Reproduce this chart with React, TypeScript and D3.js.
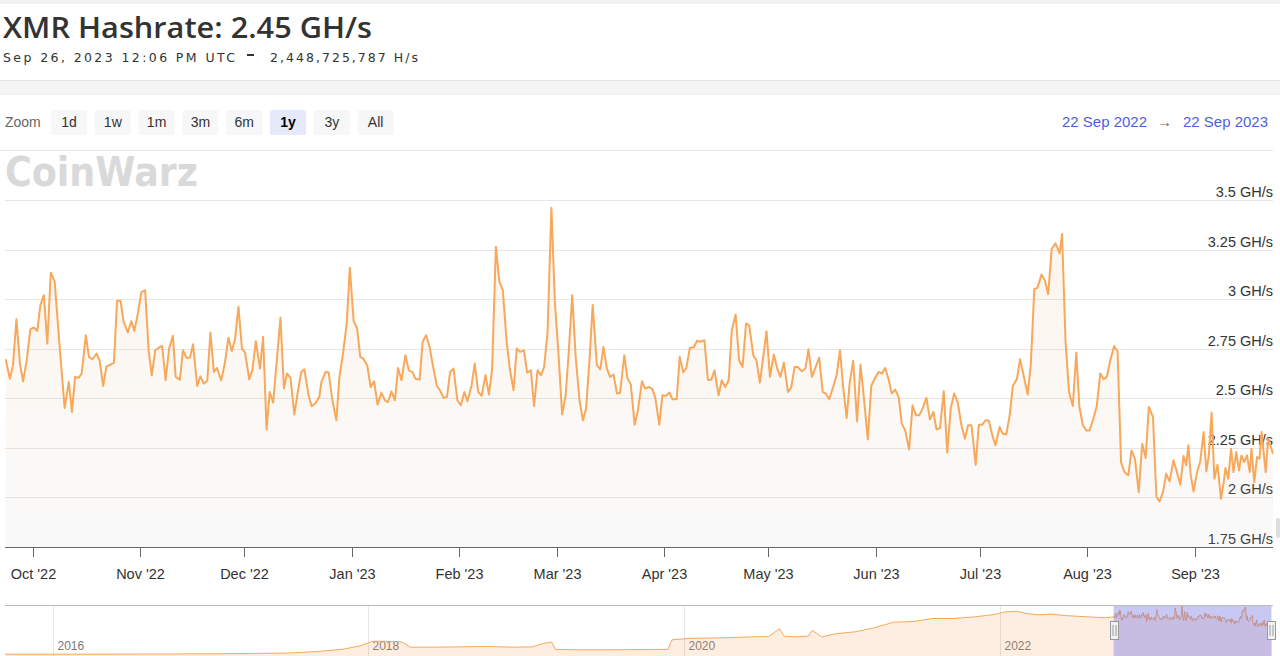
import React from "react";
import * as d3 from "d3";

// ---------- DATA ----------
const START_DATE = Date.UTC(2022, 8, 22); // 22 Sep 2022

// days after START_DATE, and hashrate in GH/s
const dayOffsets = [
  1.2, 2.4, 3.3, 4.3, 5.3, 6.2, 7.2, 8.3, 9.3, 10.3, 11.2, 12.2, 13.2, 14.2, 15.3, 16.8, 18.2, 19.4, 20.3, 21.2,
  22.2, 23.1, 24.3, 25.2, 26.2, 27.4, 28.3, 29.3, 30.2, 31.4, 32.4, 33.3, 34.3, 35.2, 36.4, 37.4, 38.3, 39.3, 40.3, 41.4,
  42.4, 43.3, 44.3, 45.2, 46.3, 47.3, 48.3, 49.4, 50.2, 51.4, 52.3, 53.3, 54.3, 55.2, 56.4, 57.3, 58.3, 59.3, 60.2, 61.2,
  62.1, 63.3, 64.3, 65.4, 66.4, 67.3, 68.3, 69.3, 70.2, 71.4, 72.3, 73.3, 74.5, 75.4, 76.4, 77.3, 78.3, 80.4, 81.4, 82.3,
  83.3, 84.4, 85.4, 86.4, 87.3, 88.5, 89.4, 90.4, 91.6,
  92.2, 93.4, 94.3, 95.3, 96.5, 97.4, 98.4, 99.5, 100.4, 101.5, 102.5, 103.4, 104.3, 105.4, 106.4, 107.4, 108.4, 109.5,
  110.5, 111.4, 112.4, 113.4, 114.3, 115.3, 116.4, 117.4, 118.4, 119.3, 120.5, 121.4, 122.4, 123.4, 124.3, 125.5, 126.4,
  127.4, 128.4, 129.3, 130.3, 131.4, 132.4, 133.4, 134.3, 135.5, 136.4, 137.4, 138.4, 139.5, 140.5, 141.4, 142.5, 143.5,
  144.5, 145.6, 146.5, 147.6, 148.5, 149.5, 150.6, 151.5, 152.6, 153.5, 154.5, 155.5, 156.4, 157.4, 158.5, 159.5, 160.5,
  161.6, 162.6, 163.5, 164.5, 165.5, 166.6, 167.6, 168.5, 169.5, 170.4, 171.6, 172.6, 173.5, 174.5, 175.4, 176.4, 177.4,
  178.3, 179.5, 180.4, 181.4,
  182.5, 183.4, 184.6, 185.5, 186.5, 187.5, 188.4, 189.6, 190.5, 191.5, 192.5, 193.4, 194.6, 195.5, 196.5, 197.4, 198.4,
  199.6, 200.5, 201.5, 202.6, 203.6, 204.6, 205.5, 206.7, 207.6, 208.6, 209.6, 210.5, 211.6, 212.6, 213.6, 214.6, 215.5,
  216.7, 217.6, 218.6, 219.5, 220.5, 221.5, 222.6, 223.6, 224.5, 225.5, 226.7, 227.6, 228.6, 229.5, 230.7, 231.7, 232.6,
  233.6, 234.5, 235.7, 236.7, 237.6, 238.6, 239.7, 240.7, 241.7, 242.6, 243.6, 244.5, 245.5, 246.6, 247.6, 248.6, 249.7,
  250.7, 251.6, 252.8, 253.8, 254.7, 255.7, 256.6, 257.6, 258.6, 259.5, 260.5, 261.6, 262.6, 263.6, 264.5, 265.5, 266.6,
  267.6, 268.6, 269.5, 270.5, 271.6, 272.6,
  273.6, 274.6, 275.6, 276.7, 277.7, 278.6, 279.6, 280.8, 281.7, 282.7, 283.6, 284.6, 285.6, 286.5, 287.7, 288.6, 289.6,
  290.6, 291.5, 292.7, 293.6, 294.6, 295.8, 296.7, 297.7, 298.6, 299.8, 300.7, 301.7, 302.7, 303.8, 305.0, 305.7, 306.7,
  307.7, 308.8, 309.8, 310.7, 311.7, 312.7, 313.6, 314.6, 315.7, 316.7, 317.7, 318.6, 319.6, 320.7, 321.7, 322.7, 323.6,
  324.8, 325.7, 326.7, 327.8, 328.8, 329.8, 330.7, 331.9, 332.9, 333.8, 334.8, 335.7, 336.7, 337.8, 338.8, 339.8, 340.7,
  341.5, 342.1, 342.8, 343.6, 344.6, 345.5, 346.5, 347.3, 348.0, 348.8, 349.6, 350.5, 351.5, 352.3, 352.8, 353.6, 354.4,
  355.1, 355.9, 356.7, 357.4, 358.2, 359.0, 359.8, 360.3, 361.1, 361.9, 362.6, 363.2, 364.4, 365.1, 366.5,
];

const hashrate = [
  2.697, 2.599, 2.667, 2.899, 2.675, 2.586, 2.684, 2.848, 2.857, 2.84, 2.97, 3.02, 2.776, 3.133, 3.091, 2.751, 2.451, 2.583, 2.431, 2.608,
  2.603, 2.625, 2.818, 2.709, 2.697, 2.726, 2.687, 2.562, 2.658, 2.67, 2.68, 2.992, 2.992, 2.886, 2.832, 2.889, 2.84, 2.928, 3.034, 3.045,
  2.742, 2.616, 2.742, 2.754, 2.764, 2.591, 2.751, 2.815, 2.608, 2.594, 2.742, 2.705, 2.705, 2.773, 2.562, 2.611, 2.574, 2.588, 2.832, 2.633,
  2.653, 2.591, 2.67, 2.805, 2.739, 2.798, 2.961, 2.751, 2.731, 2.596, 2.641, 2.788, 2.65, 2.81, 2.343, 2.532, 2.478, 2.906, 2.549, 2.625,
  2.603, 2.418, 2.532, 2.633, 2.646, 2.515, 2.46, 2.473, 2.507,
  2.583, 2.633, 2.63, 2.498, 2.389, 2.608, 2.721, 2.877, 3.158, 2.889, 2.852, 2.709, 2.7, 2.667, 2.557, 2.586, 2.468, 2.529,
  2.49, 2.481, 2.535, 2.49, 2.653, 2.591, 2.717, 2.641, 2.633, 2.599, 2.594, 2.785, 2.818, 2.759, 2.67, 2.562, 2.54,
  2.502, 2.507, 2.633, 2.65, 2.49, 2.465, 2.532, 2.485, 2.566, 2.675, 2.532, 2.512, 2.616, 2.519, 2.646, 3.264, 3.088,
  3.045, 2.785, 2.65, 2.54, 2.751, 2.734, 2.742, 2.63, 2.641, 2.461, 2.641, 2.616, 2.658, 2.835, 3.461, 2.987, 2.734,
  2.418, 2.515, 2.734, 3.02, 2.709, 2.49, 2.389, 2.448, 2.7, 2.97, 2.667, 2.646, 2.759, 2.65, 2.608, 2.62, 2.524,
  2.527, 2.717, 2.603, 2.569,
  2.367, 2.434, 2.586, 2.549, 2.557, 2.549, 2.507, 2.367, 2.515, 2.512, 2.529, 2.495, 2.495, 2.709, 2.63, 2.653, 2.754,
  2.759, 2.79, 2.785, 2.793, 2.594, 2.594, 2.641, 2.515, 2.591, 2.557, 2.591, 2.843, 2.922, 2.692, 2.658, 2.877, 2.869,
  2.717, 2.692, 2.579, 2.7, 2.838, 2.608, 2.721, 2.65, 2.608, 2.68, 2.532, 2.552, 2.658, 2.658, 2.636, 2.65, 2.747,
  2.608, 2.65, 2.705, 2.532, 2.524, 2.495, 2.557, 2.616, 2.742, 2.557, 2.401, 2.583, 2.689, 2.384, 2.67, 2.498, 2.293,
  2.562, 2.596, 2.633, 2.625, 2.653, 2.596, 2.524, 2.544, 2.507, 2.372, 2.338, 2.242, 2.465, 2.414, 2.414, 2.448, 2.502,
  2.394, 2.431, 2.343, 2.35, 2.535, 2.226,
  2.448, 2.524, 2.481, 2.364, 2.296, 2.364, 2.364, 2.165, 2.367, 2.367, 2.389, 2.387, 2.313, 2.263, 2.355, 2.322, 2.317,
  2.414, 2.562, 2.599, 2.697, 2.616, 2.519, 2.675, 3.051, 3.057, 3.125, 3.096, 3.025, 3.253, 3.281, 3.231, 3.328, 2.785,
  2.532, 2.461, 2.731, 2.456, 2.364, 2.338, 2.338, 2.389, 2.461, 2.625, 2.596, 2.608, 2.692, 2.764, 2.737, 2.178, 2.131,
  2.111, 2.237, 2.195, 2.027, 2.271, 2.199, 2.456, 2.406, 2.002, 1.98, 2.027, 2.12, 2.081, 2.187, 2.128, 2.064, 2.209,
  2.162, 2.263, 2.111, 2.03, 2.128, 2.178, 2.33, 2.131, 2.212, 2.428, 2.094, 2.165, 1.993, 2.077, 2.148, 2.094, 2.246,
  2.128, 2.229, 2.136, 2.212, 2.178, 2.212, 2.128, 2.246, 2.077, 2.204, 2.195, 2.33, 2.128, 2.296, 2.221,
];

// navigator: full history before the selected year (GH/s)
const navDates = [
  "2015-09-13", "2016-01-01", "2016-06-01", "2016-10-01", "2017-01-01", "2017-04-01", "2017-07-01", "2017-09-01",
  "2017-11-01", "2017-12-15", "2018-01-10", "2018-02-15", "2018-03-20", "2018-04-08", "2018-06-01", "2018-08-01",
  "2018-10-01", "2018-12-01", "2019-01-15", "2019-02-10", "2019-03-01", "2019-03-10", "2019-05-01", "2019-07-01",
  "2019-09-01", "2019-11-25", "2019-12-05", "2020-01-15", "2020-03-01", "2020-04-15", "2020-06-01", "2020-07-15",
  "2020-08-10", "2020-08-20", "2020-09-15", "2020-10-15", "2020-10-25", "2020-11-15", "2020-12-15", "2021-02-01",
  "2021-03-15", "2021-05-01", "2021-06-15", "2021-08-01", "2021-09-15", "2021-11-01", "2021-12-15", "2022-01-15",
  "2022-02-10", "2022-03-01", "2022-04-01", "2022-05-01", "2022-06-01", "2022-07-01", "2022-08-01", "2022-09-01",
  "2022-09-22",
];
const navValues = [
  0.12, 0.12, 0.13, 0.14, 0.15, 0.17, 0.2, 0.3,
  0.45, 0.7, 1.0, 1.0, 0.95, 0.6, 0.6, 0.62,
  0.65, 0.6, 0.62, 0.85, 0.95, 0.45, 0.42, 0.42,
  0.43, 0.45, 1.1, 1.2, 1.22, 1.25, 1.3, 1.32,
  1.85, 1.35, 1.3, 1.35, 1.75, 1.3, 1.5, 1.65,
  1.9, 2.3, 2.35, 2.55, 2.55, 2.65, 2.8, 3.0,
  3.05, 2.9, 2.8, 2.85, 2.75, 2.7, 2.65, 2.6,
  2.65,
];
const navYearTicks = ["2016-01-01", "2018-01-01", "2020-01-01", "2022-01-01"];
const navYearLabels = ["2016", "2018", "2020", "2022"];

const yTicks = [1.75, 2, 2.25, 2.5, 2.75, 3, 3.25, 3.5];
const yTickLabels = ["1.75 GH/s", "2 GH/s", "2.25 GH/s", "2.5 GH/s", "2.75 GH/s", "3 GH/s", "3.25 GH/s", "3.5 GH/s"];

const xTickDates = [
  "2022-10-01", "2022-11-01", "2022-12-01", "2023-01-01", "2023-02-01", "2023-03-01",
  "2023-04-01", "2023-05-01", "2023-06-01", "2023-07-01", "2023-08-01", "2023-09-01",
];
const xTickLabels = [
  "Oct '22", "Nov '22", "Dec '22", "Jan '23", "Feb '23", "Mar '23",
  "Apr '23", "May '23", "Jun '23", "Jul '23", "Aug '23", "Sep '23",
];

const zoomButtons = ["1d", "1w", "1m", "3m", "6m", "1y", "3y", "All"];
const selectedButton = "1y";

const FONT = "'Liberation Sans', Arial, Helvetica, sans-serif";
const parse = d3.utcParse("%Y-%m-%d");

export default function App() {
  const W = 1280;
  const H = 656;
  const plotL = 5;
  const plotR = 1273;
  const plotT = 200;
  const plotB = 547;

  const x = d3
    .scaleUtc()
    .domain([new Date(Date.UTC(2022, 8, 23)), new Date(Date.UTC(2023, 8, 23, 12))])
    .range([plotL, plotR]);
  const y = d3.scaleLinear().domain([1.75, 3.5]).range([plotB, plotT]);

  const data = dayOffsets.map((d, i) => ({ date: new Date(START_DATE + d * 864e5), v: hashrate[i] }));

  const line = d3
    .line<{ date: Date; v: number }>()
    .x((d) => x(d.date))
    .y((d) => y(d.v));
  const area = d3
    .area<{ date: Date; v: number }>()
    .x((d) => x(d.date))
    .y0(plotB)
    .y1((d) => y(d.v));

  // navigator
  const navTop = 605;
  const navBottom = 656;
  const navX = d3
    .scaleUtc()
    .domain([new Date(Date.UTC(2015, 8, 13)), new Date(Date.UTC(2023, 8, 26))])
    .range([plotL, plotR]);
  const navY = d3.scaleLinear().domain([0, 3.4]).range([656, 606]);
  const navData = [
    ...navDates.map((s, i) => ({ date: parse(s) as Date, v: navValues[i] })),
    ...data,
  ];
  const navLine = d3
    .line<{ date: Date; v: number }>()
    .x((d) => navX(d.date))
    .y((d) => navY(d.v));
  const navArea = d3
    .area<{ date: Date; v: number }>()
    .x((d) => navX(d.date))
    .y0(navBottom)
    .y1((d) => navY(d.v));
  const selL = navX(new Date(Date.UTC(2022, 8, 22)));
  const selR = navX(new Date(Date.UTC(2023, 8, 22, 12)));

  const btnX0 = 51;
  const btnStep = 43.8;
  const btnW = 36;

  return (
    <svg
      width={W}
      height={H}
      viewBox={`0 0 ${W} ${H}`}
      style={{ position: "fixed", left: 0, top: 0, background: "#fff", display: "block" }}
      fontFamily={FONT}
    >
      <defs>
        <linearGradient id="areaGrad" gradientUnits="userSpaceOnUse" x1="0" y1={plotT} x2="0" y2={plotB}>
          <stop offset="0%" stopColor="rgb(245,168,92)" stopOpacity={0.12} />
          <stop offset="100%" stopColor="rgb(200,200,200)" stopOpacity={0.1} />
        </linearGradient>
        <clipPath id="plotClip">
          <rect x={plotL} y={150} width={plotR - plotL + 2} height={plotB - 150} />
        </clipPath>
        <clipPath id="navClip">
          <rect x={plotL} y={navTop} width={plotR - plotL} height={navBottom - navTop} />
        </clipPath>
      </defs>

      {/* header card */}
      <rect x={0} y={0} width={W} height={4} fill="#f1f1f1" />
      <rect x={0} y={80} width={W} height={15} fill="#f4f4f4" />
      <line x1={0} x2={W} y1={80.5} y2={80.5} stroke="#e2e2e2" />
      <line x1={0} x2={W} y1={94.5} y2={94.5} stroke="#ececec" />
      <text
        x={3}
        y={38}
        fontFamily="'Open Sans', 'Liberation Sans', sans-serif"
        fontWeight={600}
        fontSize={29}
        fill="#333"
        textLength={369}
        lengthAdjust="spacingAndGlyphs"
      >
        XMR Hashrate: 2.45 GH/s
      </text>
      <g fontFamily="'DejaVu Sans', 'Liberation Sans', sans-serif" fontWeight={500} fontSize={12.5} fill="#333">
        <text x={3} y={62} textLength={232} lengthAdjust="spacing">
          Sep 26, 2023 12:06 PM UTC
        </text>
        <rect x={247} y={54} width={7} height={2} fill="#333" />
        <text x={270} y={62} textLength={148} lengthAdjust="spacing">
          2,448,725,787 H/s
        </text>
      </g>

      {/* range selector */}
      <text x={5} y={127} fontSize={14} fill="#666">
        Zoom
      </text>
      {zoomButtons.map((b, i) => {
        const bx = btnX0 + i * btnStep;
        const sel = b === selectedButton;
        return (
          <g key={b}>
            <rect x={bx} y={110} width={btnW} height={25} rx={2} fill={sel ? "#e6e9fa" : "#f7f7f7"} />
            <text
              x={bx + btnW / 2}
              y={127}
              textAnchor="middle"
              fontSize={14}
              fontWeight={sel ? 700 : 400}
              fill={sel ? "#000" : "#333"}
            >
              {b}
            </text>
          </g>
        );
      })}
      <text x={1062} y={127} fontSize={15} fill="#4c5fe0" textLength={85} lengthAdjust="spacingAndGlyphs">
        22 Sep 2022
      </text>
      <text x={1164.5} y={127} fontSize={15} fill="#666" textAnchor="middle">
        →
      </text>
      <text x={1183} y={127} fontSize={15} fill="#4c5fe0" textLength={85} lengthAdjust="spacingAndGlyphs">
        22 Sep 2023
      </text>
      <line x1={0} x2={plotR} y1={150.5} y2={150.5} stroke="#e6e6e6" />

      {/* watermark logo */}
      <text
        x={5}
        y={186}
        fontFamily="'DejaVu Sans', sans-serif"
        fontWeight={900}
        fontSize={40}
        fill="#d9d9d9"
        textLength={193}
        lengthAdjust="spacingAndGlyphs"
      >
        CoinWarz
      </text>

      {/* grid */}
      {yTicks.map((t) =>
        t === 1.75 ? null : (
          <line key={t} x1={plotL} x2={plotR} y1={Math.round(y(t)) + 0.5} y2={Math.round(y(t)) + 0.5} stroke="#e6e6e6" />
        )
      )}
      {yTicks.map((t, i) => (
        <text key={"yl" + t} x={plotR} y={y(t) - 3} textAnchor="end" fontSize={14.5} fill="#333">
          {yTickLabels[i]}
        </text>
      ))}

      {/* series */}
      <g clipPath="url(#plotClip)">
        <path d={area(data) || ""} fill="url(#areaGrad)" />
        <path d={line(data) || ""} fill="none" stroke="#f7a85a" strokeWidth={2} strokeLinejoin="round" />
      </g>

      {/* x axis */}
      <line x1={plotL} x2={plotR} y1={plotB + 0.5} y2={plotB + 0.5} stroke="#666" />
      {xTickDates.map((s, i) => {
        const tx = Math.round(x(parse(s) as Date)) + 0.5;
        return (
          <g key={s}>
            <line x1={tx} x2={tx} y1={plotB} y2={plotB + 10} stroke="#666" />
            <text x={tx} y={579} textAnchor="middle" fontSize={14.5} fill="#333">
              {xTickLabels[i]}
            </text>
          </g>
        );
      })}
      <rect x={1276} y={518} width={4} height={20} rx={2} fill="#dedede" />

      {/* navigator */}
      {navYearTicks.map((s, i) => {
        const gx = Math.round(navX(parse(s) as Date)) + 0.5;
        return (
          <g key={s}>
            <line x1={gx} x2={gx} y1={navTop} y2={navBottom} stroke="#e6e6e6" />
            <text x={gx + 4} y={650} fontSize={12} fill="#777">
              {navYearLabels[i]}
            </text>
          </g>
        );
      })}
      <g clipPath="url(#navClip)">
        <path d={navArea(navData) || ""} fill="rgba(247,163,92,0.18)" />
        <path d={navLine(navData) || ""} fill="none" stroke="#f7a85a" strokeWidth={1} />
      </g>
      <rect x={selL} y={navTop} width={selR - selL} height={navBottom - navTop} fill="rgba(110,110,225,0.38)" />
      <line x1={plotL} x2={plotR} y1={navTop + 0.5} y2={navTop + 0.5} stroke="#bbb" />
      {[selL, selR].map((hx, i) => (
        <g key={"h" + i}>
          <rect x={Math.round(hx) - 3.5} y={621.5} width={8} height={18} fill="#f2f2f2" stroke="#999" />
          <line x1={Math.round(hx) - 1} x2={Math.round(hx) - 1} y1={625} y2={636} stroke="#999" />
          <line x1={Math.round(hx) + 2} x2={Math.round(hx) + 2} y1={625} y2={636} stroke="#999" />
        </g>
      ))}
    </svg>
  );
}
